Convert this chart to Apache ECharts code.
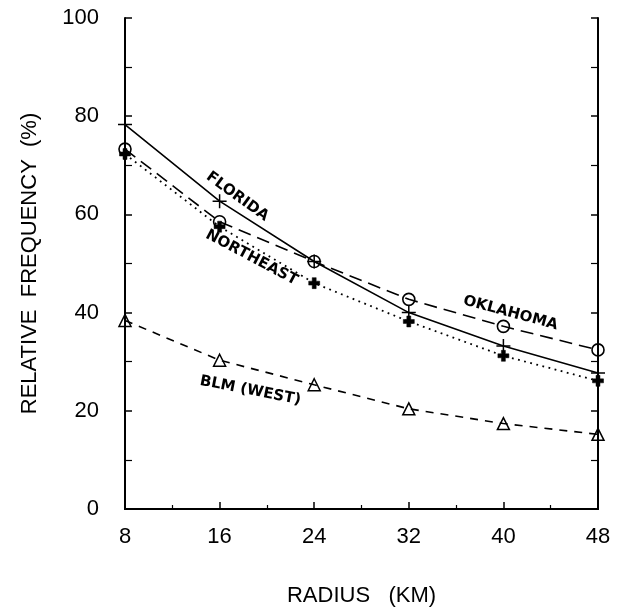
<!DOCTYPE html>
<html>
<head>
<meta charset="utf-8">
<script src="https://cdn.jsdelivr.net/npm/echarts@6/dist/echarts.min.js"></script>
<style>html,body{margin:0;padding:0;background:#fff}#c{width:629px;height:612px}</style>
</head>
<body>
<div id="c"></div>
<script>
const radius = [8, 16, 24, 32, 40, 48];
const florida = [78.3, 62.7, 50.4, 40.0, 33.2, 27.7];
const oklahoma = [73.3, 58.5, 50.4, 42.7, 37.2, 32.4];
const northeast = [72.3, 57.5, 46.0, 38.2, 31.2, 26.1];
const blmWest = [38.4, 30.3, 25.3, 20.4, 17.4, 15.2];
const xTicks = [8, 16, 24, 32, 40, 48];
const yTicks = [0, 20, 40, 60, 80, 100];
const seriesNames = ['FLORIDA', 'OKLAHOMA', 'NORTHEAST', 'BLM (WEST)'];
// label anchors in data units, with text rotation (degrees)
const labelAnchors = [
  {text: 'FLORIDA', x: 17.5, y: 63.6, rot: 36},
  {text: 'NORTHEAST', x: 18.7, y: 51.2, rot: 28},
  {text: 'OKLAHOMA', x: 40.6, y: 39.9, rot: 15},
  {text: 'BLM (WEST)', x: 18.6, y: 24.1, rot: 11}
];

const pair = arr => radius.map((r, i) => [r, arr[i]]);
const thinPlus = 'path://M0,5L10,5M5,0L5,10';
const boldPlus = 'path://M3.2,0H6.8V3.2H10V6.8H6.8V10H3.2V6.8H0V3.2H3.2Z';
const axisFont = {fontFamily: 'Liberation Sans', fontSize: 22, color: '#000'};
const titleFont = {fontFamily: 'Liberation Sans', fontSize: 22, color: '#000'};

const chart = echarts.init(document.getElementById('c'), null, {renderer: 'canvas'});
const baseX = {
  type: 'value', min: 8, max: 48, interval: 8,
  axisLine: {show: true, lineStyle: {color: '#000', width: 2}},
  axisTick: {show: true, inside: true, length: 7, lineStyle: {color: '#000', width: 1.5}},
  minorTick: {show: true, splitNumber: 2, length: 4, lineStyle: {color: '#000', width: 1.2}},
  splitLine: {show: false}
};
const baseY = {
  type: 'value', min: 0, max: 100, interval: 20,
  axisLine: {show: true, lineStyle: {color: '#000', width: 2}},
  axisTick: {show: true, inside: true, length: 7, lineStyle: {color: '#000', width: 1.5}},
  minorTick: {show: true, splitNumber: 2, length: 7, lineStyle: {color: '#000', width: 1.2}},
  splitLine: {show: false}
};
chart.setOption({
  animation: false,
  backgroundColor: '#fff',
  grid: {left: 125, right: 31, top: 18, bottom: 100},
  xAxis: [
    Object.assign({}, baseX, {
      position: 'bottom',
      axisLabel: Object.assign({margin: 17, formatter: v => xTicks.includes(v) ? String(v) : ''}, axisFont),
      name: 'RADIUS   (KM)', nameLocation: 'middle', nameGap: 76,
      nameTextStyle: titleFont
    }),
    Object.assign({}, baseX, {position: 'top', axisLabel: {show: false}, axisTick: {show: false}, minorTick: {show: false}})
  ],
  yAxis: [
    Object.assign({}, baseY, {
      position: 'left',
      axisLabel: Object.assign({margin: 26, formatter: v => yTicks.includes(v) ? String(v) : ''}, axisFont),
      name: 'RELATIVE  FREQUENCY  (%)', nameLocation: 'middle', nameGap: 84,
      nameTextStyle: titleFont
    }),
    Object.assign({}, baseY, {position: 'right', axisLabel: {show: false}})
  ],
  series: [
    {
      name: seriesNames[0], type: 'line', data: pair(florida),
      symbol: thinPlus, symbolSize: 14,
      itemStyle: {color: 'rgba(0,0,0,0)', borderColor: '#000', borderWidth: 1.5},
      lineStyle: {color: '#000', width: 1.6, type: 'solid'}, z: 3
    },
    {
      name: seriesNames[1], type: 'line', data: pair(oklahoma),
      symbol: 'circle', symbolSize: 12,
      itemStyle: {color: 'rgba(0,0,0,0)', borderColor: '#000', borderWidth: 1.6},
      lineStyle: {color: '#000', width: 1.6, type: [13, 7]}, z: 3
    },
    {
      name: seriesNames[2], type: 'line', data: pair(northeast),
      symbol: boldPlus, symbolSize: 11,
      itemStyle: {color: '#000', borderColor: '#000', borderWidth: 0.5},
      lineStyle: {color: '#000', width: 1.8, type: [1.8, 4.5]}, z: 3
    },
    {
      name: seriesNames[3], type: 'line', data: pair(blmWest),
      symbol: 'triangle', symbolSize: 12,
      itemStyle: {color: 'rgba(0,0,0,0)', borderColor: '#000', borderWidth: 1.5},
      lineStyle: {color: '#000', width: 1.6, type: [8, 7]}, z: 3
    }
  ]
});

const graphics = labelAnchors.map(a => {
  const p = chart.convertToPixel({xAxisIndex: 0, yAxisIndex: 0}, [a.x, a.y]);
  return {
    type: 'text', x: p[0], y: p[1], rotation: -a.rot * Math.PI / 180, z: 10,
    style: {
      text: a.text, fill: '#000', align: 'center', verticalAlign: 'middle',
      font: 'bold 15px "DejaVu Sans"'
    }
  };
});
chart.setOption({graphic: graphics});
</script>
</body>
</html>
